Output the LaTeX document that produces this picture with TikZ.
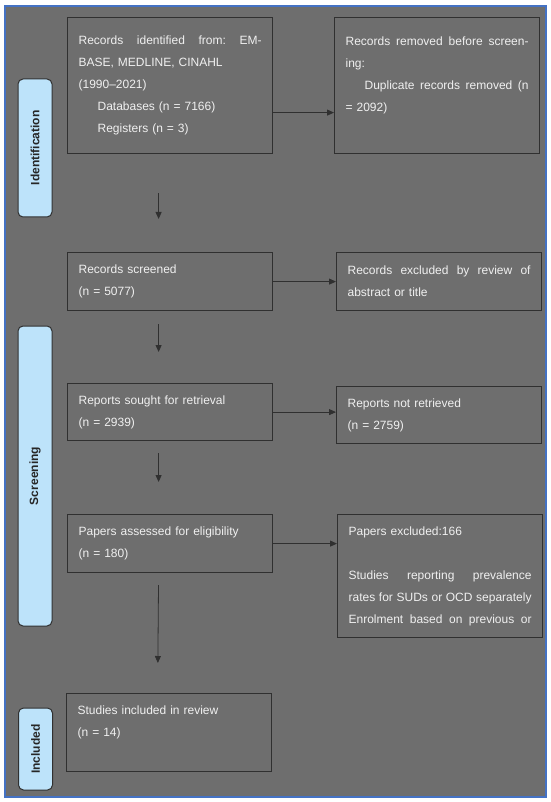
\documentclass[tikz,border=0pt]{standalone}
\usepackage{fontspec}
\setmainfont{Liberation Sans}
\usetikzlibrary{arrows.meta}

\definecolor{bggray}{HTML}{6E6E6E}
\definecolor{frameblue}{HTML}{4472C4}
\definecolor{stageblue}{HTML}{BDE3FA}
\definecolor{linegray}{HTML}{303030}
\definecolor{textwhite}{HTML}{F0F0F0}

% one line stretched to the full text width
\newcommand{\fillline}[1]{\leavevmode\hbox to\hsize{\frenchspacing\spaceskip=0.28em plus 1fil minus 0.1em #1}}

\tikzset{
  box/.style={draw=linegray, line width=1.2pt, anchor=north west,
    text width=183pt, inner xsep=11pt, inner ysep=0pt, minimum width=205pt,
    align=left, text=textwhite, font=\fontsize{12}{22}\selectfont},
  stage/.style={draw=linegray, line width=1pt, fill=stageblue,
    rounded corners=5pt, rotate=90, minimum height=34pt, inner sep=0pt,
    text=black!85, font=\fontsize{12}{14}\selectfont\bfseries},
  arrow/.style={draw=linegray, line width=0.8pt,
    -{Triangle[length=7pt,width=6pt]}},
}

\begin{document}
\begin{tikzpicture}[x=1pt, y=-1pt]
    \useasboundingbox (0,0) rectangle (550,802);
    \fill[white] (0,0) rectangle (550,802);
    \draw[frameblue, line width=1.6pt, fill=bggray] (5,6) rectangle (546,797);

    % Draw stage labels
    \node[stage, minimum width=138pt] (id) at (35,148) {Identification};
    \node[stage, minimum width=300pt] (scr) at (35,476) {Screening};
    \node[stage, minimum width=82pt] (inc) at (35.5,749) {Included};

    % Draw nodes for the main column
    \node[box, minimum height=136pt] (1) at (67,17) {\fillline{Records identified from: EM-}\\
        BASE, MEDLINE, CINAHL\\
        (1990--2021)\\
        \hspace*{19pt}Databases (n = 7166)\\
        \hspace*{19pt}Registers (n = 3)};
    \node[box, minimum height=58pt] (3) at (67,252) {Records screened\\ (n = 5077)};
    \node[box, minimum height=57pt] (5) at (67,383) {Reports sought for retrieval\\ (n = 2939)};
    \node[box, minimum height=58pt] (7) at (67,514) {Papers assessed for eligibility\\ (n = 180)};
    \node[box, minimum height=78pt] (9) at (66,693) {Studies included in review\\ (n = 14)\\ \mbox{}};

    % Draw nodes for the side column
    \node[box, minimum height=136pt] (2) at (334,17) {\fillline{Records removed before screen-}\\
        ing:\\
        \fillline{\hspace*{19pt}Duplicate records removed (n}\\
        = 2092)\\ \mbox{}};
    \node[box, minimum height=58pt] (4) at (336,252) {\fillline{Records excluded by review of}\\ abstract or title};
    \node[box, minimum height=57pt] (6) at (336,386) {Reports not retrieved\\ (n = 2759)};
    \node[box, minimum height=123pt] (8) at (337,514) {Papers excluded:166\\ \mbox{}\\
        \fillline{Studies reporting prevalence}\\
        \fillline{rates for SUDs or OCD separately}\\
        \fillline{Enrolment based on previous or}};

    % Draw edges
    \draw[arrow] ([yshift=-27pt]1.east) -- ([yshift=-27pt]1.east -| 2.west);
    \draw[arrow] (3) -- (3 -| 4.west);
    \draw[arrow] (5) -- (5 -| 6.west);
    \draw[arrow] (7) -- (7 -| 8.west);
    \draw[arrow, shorten <=39pt, shorten >=33pt] ([xshift=-11.5pt]1.south) -- ([xshift=-11.5pt]3.north);
    \draw[arrow, shorten <=13pt, shorten >=31pt] ([xshift=-11.5pt]3.south) -- ([xshift=-11.5pt]5.north);
    \draw[arrow, shorten <=12pt, shorten >=32pt] ([xshift=-11.5pt]5.south) -- ([xshift=-11.5pt]7.north);
    \draw[arrow, shorten <=12pt, shorten >=30pt] ([xshift=-11.5pt]7.south) -- ([xshift=-11.5pt]9.north);
\end{tikzpicture}
\end{document}
